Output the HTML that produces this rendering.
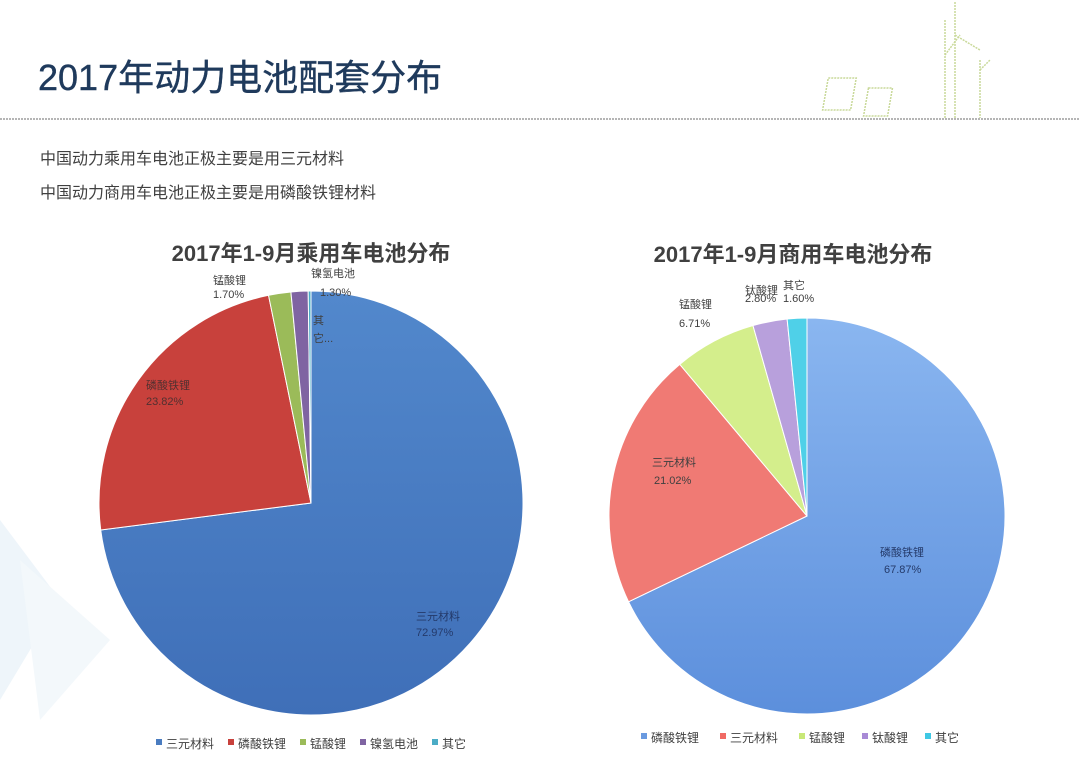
<!DOCTYPE html>
<html><head><meta charset="utf-8"><style>
body{margin:0;width:1080px;height:774px;overflow:hidden;background:#fff;font-family:"Liberation Sans","Noto Sans CJK SC",sans-serif;}
</style></head><body>
<svg id="s" width="1080" height="774" viewBox="0 0 1080 774" xmlns="http://www.w3.org/2000/svg" font-family="Liberation Sans, Noto Sans CJK SC, sans-serif">
<defs>
<linearGradient id="gb" x1="0" y1="0" x2="0" y2="1"><stop offset="0" stop-color="#5288cc"/><stop offset="1" stop-color="#3f6fb8"/></linearGradient>
<linearGradient id="gb2" x1="0" y1="0" x2="0" y2="1"><stop offset="0" stop-color="#8ab6f0"/><stop offset="1" stop-color="#5c8fdc"/></linearGradient>
</defs>
<polygon points="0,520 60,600 0,700" fill="#eef5fa"/>
<polygon points="20,560 110,640 40,720" fill="#f3f8fb"/>
<text x="38" y="90" font-size="36" fill="#1f3a5c" stroke="#1f3a5c" stroke-width="0.4">2017年动力电池配套分布</text>
<line x1="0" y1="119" x2="1080" y2="119" stroke="#b5b5b5" stroke-width="2" stroke-dasharray="2,1"/>
<g stroke="#c9d99a" stroke-width="1.5" fill="none" stroke-dasharray="2,1">
<rect x="842" y="78" width="28" height="32" transform="skewX(-10)"/><rect x="884" y="88" width="24" height="28" transform="skewX(-10)"/>
<line x1="945" y1="20" x2="945" y2="118"/><line x1="955" y1="2" x2="955" y2="118"/><line x1="980" y1="60" x2="980" y2="118"/>
<line x1="945" y1="55" x2="960" y2="35"/><line x1="955" y1="35" x2="980" y2="50"/><line x1="980" y1="70" x2="990" y2="60"/>
</g>
<text x="40" y="164" font-size="16" fill="#404040">中国动力乘用车电池正极主要是用三元材料</text>
<text x="40" y="198" font-size="16" fill="#404040">中国动力商用车电池正极主要是用磷酸铁锂材料</text>
<text x="311" y="261" font-size="22" font-weight="bold" fill="#404040" text-anchor="middle">2017年1-9月乘用车电池分布</text>
<text x="793" y="262" font-size="22" font-weight="bold" fill="#404040" text-anchor="middle">2017年1-9月商用车电池分布</text>
<g id="p1"></g><g id="p2"></g>
<g font-size="11" fill="#404040">
<text x="213" y="284">锰酸锂</text><text x="213" y="298">1.70%</text>
<text x="311" y="277">镍氢电池</text><text x="320" y="296">1.30%</text>
<text x="313" y="324">其</text><text x="313" y="342">它...</text>
<text x="146" y="389" fill="#503030">磷酸铁锂</text><text x="146" y="405" fill="#503030">23.82%</text>
<text x="416" y="620" fill="#243a6a">三元材料</text><text x="416" y="636" fill="#243a6a">72.97%</text>
<text x="745" y="294">钛酸锂</text><text x="783" y="289">其它</text><text x="745" y="302">2.80%</text><text x="783" y="302">1.60%</text>
<text x="679" y="308">锰酸锂</text><text x="679" y="327">6.71%</text>
<text x="652" y="466">三元材料</text><text x="654" y="484">21.02%</text>
<text x="880" y="556" fill="#243a6a">磷酸铁锂</text><text x="884" y="573" fill="#243a6a">67.87%</text>
</g>
<g font-size="12" fill="#404040">
<rect x="156" y="739" width="6" height="6" fill="#4a7cc0"/><text x="166" y="748">三元材料</text>
<rect x="228" y="739" width="6" height="6" fill="#c8413c"/><text x="238" y="748">磷酸铁锂</text>
<rect x="300" y="739" width="6" height="6" fill="#9bbb59"/><text x="310" y="748">锰酸锂</text>
<rect x="360" y="739" width="6" height="6" fill="#7f64a2"/><text x="370" y="748">镍氢电池</text>
<rect x="432" y="739" width="6" height="6" fill="#4bacc6"/><text x="442" y="748">其它</text>
<rect x="641" y="733" width="6" height="6" fill="#6a9ae0"/><text x="651" y="742">磷酸铁锂</text>
<rect x="720" y="733" width="6" height="6" fill="#f06a64"/><text x="730" y="742">三元材料</text>
<rect x="799" y="733" width="6" height="6" fill="#c8e878"/><text x="809" y="742">锰酸锂</text>
<rect x="862" y="733" width="6" height="6" fill="#a88ad6"/><text x="872" y="742">钛酸锂</text>
<rect x="925" y="733" width="6" height="6" fill="#3fc8e4"/><text x="935" y="742">其它</text>
</g>
</svg>
<script>
function pie(id,cx,cy,r,vals,cols){var g=document.getElementById(id),a=0,s='';
vals.forEach(function(v,i){var a2=a+v*2*Math.PI/100;
var x1=cx+r*Math.sin(a),y1=cy-r*Math.cos(a),x2=cx+r*Math.sin(a2),y2=cy-r*Math.cos(a2);
s+='<path d="M'+cx+','+cy+' L'+x1+','+y1+' A'+r+','+r+' 0 '+(a2-a>Math.PI?1:0)+' 1 '+x2+','+y2+' Z" fill="'+cols[i]+'" stroke="#fff" stroke-width="1"/>';a=a2;});
g.innerHTML=s;}
pie('p1',311,503,212,[72.97,23.82,1.7,1.3,0.21],['url(#gb)','#c8413c','#9bbb59','#7f64a2','#4bacc6']);
pie('p2',807,516,198,[67.87,21.02,6.71,2.8,1.6],['url(#gb2)','#f07a74','#d4ee8c','#b8a0dc','#4fd0e8']);
</script>
</body></html>
